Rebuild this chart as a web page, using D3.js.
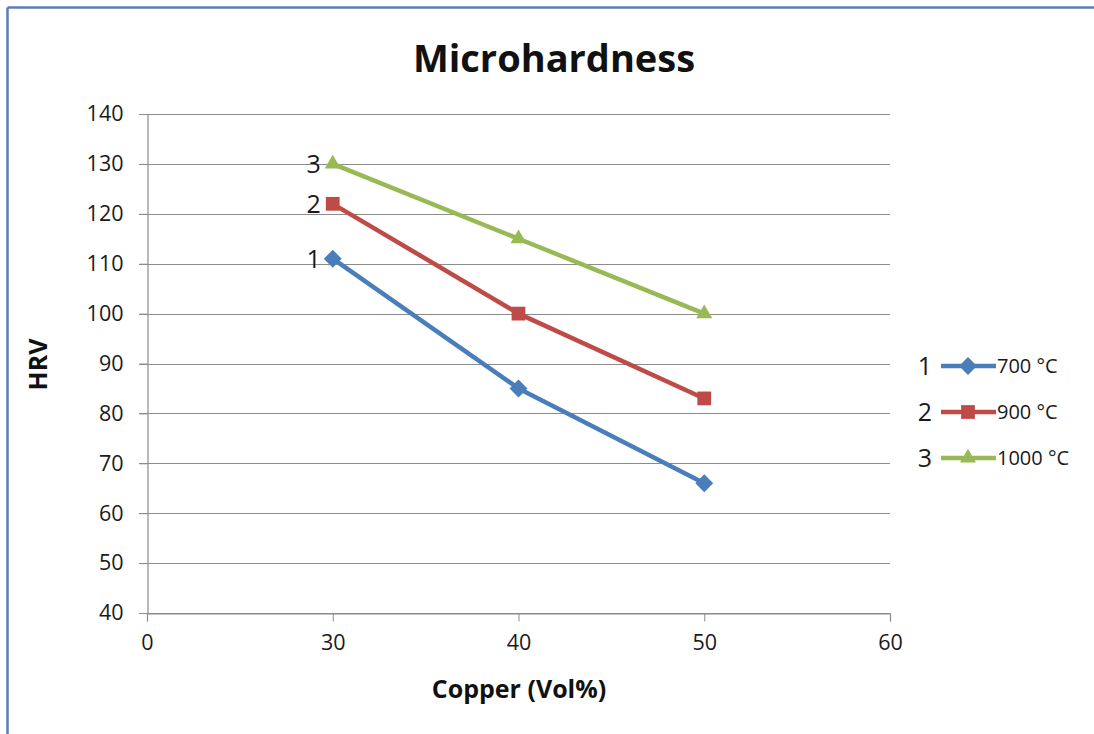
<!DOCTYPE html>
<html>
<head>
<meta charset="utf-8">
<script src="https://cdn.jsdelivr.net/npm/d3@7"></script>
<style>
  html, body { margin: 0; padding: 0; background: #fff; }
  svg { display: block; font-family: "Open Sans", Lato, sans-serif; }
</style>
</head>
<body>
<svg id="chart" width="1094" height="734"></svg>
<script>
// Copper content (Vol%) categories on the x axis
const xCategories = ["0", "30", "40", "50", "60"];
const copper = ["30", "40", "50"];
// Microhardness (HRV) per sintering temperature
const hrv700 = [111, 85, 66];
const hrv900 = [122, 100, 83];
const hrv1000 = [130, 115, 100];
const seriesNames = ["700 °C", "900 °C", "1000 °C"];
const seriesTags = ["1", "2", "3"];
const yTicks = [40, 50, 60, 70, 80, 90, 100, 110, 120, 130, 140];

const colors = ["#4a7ebb", "#be4b48", "#98b954"];
const FONT = "'Open Sans', Lato, sans-serif";

// Marker shapes: diamond (rotated square), square, triangle
const markers = [
  { type: d3.symbolSquare, size: 160, rotate: 45 },
  { type: d3.symbolSquare, size: 190, rotate: 0 },
  { type: d3.symbolTriangle, size: 110, rotate: 0 }
];

const series = [hrv700, hrv900, hrv1000].map((vals, i) => ({
  name: seriesNames[i],
  tag: seriesTags[i],
  color: colors[i],
  marker: markers[i],
  points: copper.map((c, j) => ({ x: c, y: vals[j] }))
}));

const svg = d3.select("#chart");

// Chart frame
svg.append("rect").attr("x", 0).attr("y", 0).attr("width", 1094).attr("height", 734).attr("fill", "#fff");
svg.append("line").attr("x1", 7.5).attr("x2", 1094).attr("y1", 7.5).attr("y2", 7.5)
  .attr("stroke", "#5b7db5").attr("stroke-width", 2.5);
svg.append("line").attr("x1", 7.5).attr("x2", 7.5).attr("y1", 7.5).attr("y2", 734)
  .attr("stroke", "#5b7db5").attr("stroke-width", 2.5);

const x = d3.scalePoint().domain(xCategories).range([147, 890]);
const y = d3.scaleLinear().domain([40, 140]).range([613, 114]);

// Horizontal gridlines
svg.append("g")
  .selectAll("line")
  .data(yTicks)
  .join("line")
  .attr("x1", x("0") - 8).attr("x2", x("60"))
  .attr("y1", d => Math.round(y(d)) + 0.5).attr("y2", d => Math.round(y(d)) + 0.5)
  .attr("stroke", "#8c8c8c").attr("stroke-width", 1.2);

// Y axis
const yAxis = svg.append("g")
  .attr("transform", `translate(${x("0") + 0.5},0)`)
  .call(d3.axisLeft(y).tickValues(yTicks).tickSize(8).tickPadding(16));
yAxis.select(".domain").attr("stroke", "#8c8c8c").attr("stroke-width", 1.2);
yAxis.selectAll(".tick line").attr("stroke", "#8c8c8c");
yAxis.selectAll(".tick text").attr("font-size", 21.5).attr("fill", "#1a1a1a")
  .attr("font-family", FONT);

// X axis
const xAxis = svg.append("g")
  .attr("transform", `translate(0,${Math.round(y(40)) + 0.5})`)
  .call(d3.axisBottom(x).tickSize(8).tickPadding(13));
xAxis.select(".domain").attr("stroke", "#8c8c8c").attr("stroke-width", 1.2);
xAxis.selectAll(".tick line").attr("stroke", "#8c8c8c");
xAxis.selectAll(".tick text").attr("font-size", 21.5).attr("fill", "#1a1a1a")
  .attr("font-family", FONT);

// Title and axis titles
svg.append("text").attr("x", 554).attr("y", 72).attr("text-anchor", "middle")
  .attr("font-size", 38).attr("font-weight", "bold").attr("fill", "#111")
  .text("Microhardness");
svg.append("text").attr("x", 519).attr("y", 698).attr("text-anchor", "middle")
  .attr("font-size", 25).attr("font-weight", "bold").attr("fill", "#111")
  .text("Copper (Vol%)");
svg.append("text").attr("transform", `translate(47,${y(90) + 1}) rotate(-90)`)
  .attr("text-anchor", "middle").attr("font-size", 25).attr("font-weight", "bold").attr("fill", "#111")
  .text("HRV");

const markerPath = m => d3.symbol().type(m.type).size(m.size)();

// Series lines and markers
const line = d3.line().x(d => x(d.x)).y(d => y(d.y));
const g = svg.append("g");
series.forEach(s => {
  g.append("path").datum(s.points).attr("d", line)
    .attr("fill", "none").attr("stroke", s.color).attr("stroke-width", 4.5)
    .attr("stroke-linejoin", "round");
  g.selectAll(null).data(s.points).join("path")
    .attr("transform", d => `translate(${x(d.x)},${y(d.y)}) rotate(${s.marker.rotate})`)
    .attr("d", markerPath(s.marker))
    .attr("fill", s.color);
  // Series tag beside the first point
  const p0 = s.points[0];
  g.append("text").attr("x", x(p0.x) - 12).attr("y", y(p0.y) + 9)
    .attr("text-anchor", "end").attr("font-size", 25).attr("fill", "#1a1a1a")
    .text(s.tag);
});

// Legend
const legend = svg.append("g");
series.forEach((s, i) => {
  const ly = 366 + i * 46;
  legend.append("text").attr("x", 932).attr("y", ly + 9).attr("text-anchor", "end")
    .attr("font-size", 25).attr("fill", "#1a1a1a").text(s.tag);
  legend.append("line").attr("x1", 941).attr("x2", 996).attr("y1", ly).attr("y2", ly)
    .attr("stroke", s.color).attr("stroke-width", 4.5);
  legend.append("path").attr("transform", `translate(968,${ly}) rotate(${s.marker.rotate})`)
    .attr("d", markerPath(s.marker)).attr("fill", s.color);
  legend.append("text").attr("x", 997).attr("y", ly + 7)
    .attr("font-size", 20).attr("fill", "#1a1a1a").text(s.name);
});
</script>
</body>
</html>
